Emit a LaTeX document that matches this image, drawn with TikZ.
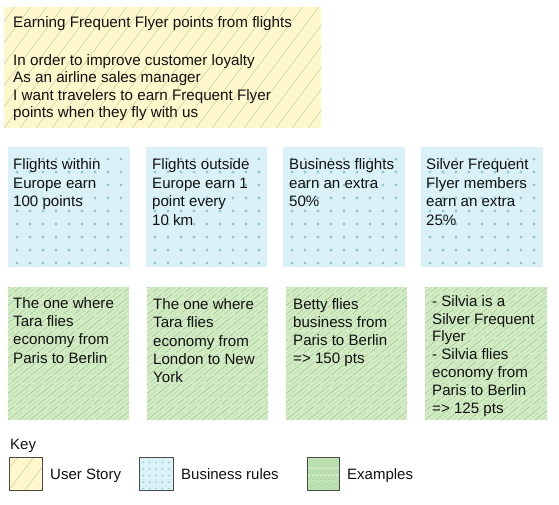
\documentclass[tikz,border=0pt]{standalone}
\usepackage{fontspec}
\setmainfont{Liberation Sans}
\definecolor{ybg}{HTML}{FEF8CC}
\definecolor{yln}{HTML}{D6CDA3}
\definecolor{bbg}{HTML}{DAF2F7}
\definecolor{bdot}{HTML}{94C7C8}
\definecolor{gbg}{HTML}{D4EBC5}
\definecolor{gln}{HTML}{9CD294}
\definecolor{gln2}{HTML}{B4DCAA}
\definecolor{txt}{HTML}{111111}
\definecolor{keyline}{HTML}{4A4A4A}
% yellow hatched fill: x1 y1 x2 y2 spacing
\newcommand\ystoryfill[5]{%
  \fill[ybg] (#1,#2) rectangle (#3,#4);
  \begin{scope}
    \clip (#1,#2) rectangle (#3,#4);
    \foreach \k in {-12,...,24} {
      \draw[yln,line width=0.6pt] ({#1+\k*#5},#4) -- ++(150,-200);
    }
  \end{scope}}
% blue dotted fill: x1 y1 x2 y2 spacing offset radius
\newcommand\bizfill[7]{%
  \fill[bbg] (#1,#2) rectangle (#3,#4);
  \begin{scope}
    \clip (#1,#2) rectangle (#3,#4);
    \pgfmathtruncatemacro\bzcols{(#3-#1-#6)/#5}
    \pgfmathtruncatemacro\bzrows{(#4-#2+1)/#5}
    \foreach \i in {0,...,\bzcols} {
      \foreach \j in {0,...,\bzrows} {
        \fill[bdot] ({#1+#6+\i*#5},{#2-1+\j*#5}) circle (#7);
      }
    }
  \end{scope}}
% green sketchy hatch: x1 y1 x2 y2 spacing
\newcommand\exfill[5]{%
  \fill[gbg] (#1,#2) rectangle (#3,#4);
  \begin{scope}
    \clip (#1,#2) rectangle (#3,#4);
    \foreach \k in {-30,...,24} {
      \draw[gln,line width=0.65pt,dash pattern=on 22pt off 3pt on 9pt off 2pt]
        ({#1+\k*#5},#4) -- ++(200,-160);
      \draw[gln2,line width=0.5pt,dash pattern=on 12pt off 4pt on 17pt off 3pt]
        ({#1+\k*#5+#5/2},#4) -- ++(200,-160);
    }
  \end{scope}}
\tikzset{
  boxtext/.style={anchor=north west, inner sep=0pt, align=left, text=txt},
  ytext/.style={boxtext, font=\fontsize{15.2}{17.5}\selectfont},
  btext/.style={boxtext, font=\fontsize{15.1}{18.6}\selectfont},
  gtext/.style={boxtext, font=\fontsize{15.1}{18.2}\selectfont},
  g4text/.style={boxtext, font=\fontsize{15.1}{17.8}\selectfont},
  keytext/.style={anchor=base west, inner sep=0pt, text=txt, font=\fontsize{15}{18}\selectfont},
  keyborder/.style={draw=keyline, line width=0.8pt}
}
\begin{document}
\begin{tikzpicture}[x=1pt,y=-1pt]
\useasboundingbox (0,0) rectangle (559,504);
\fill[white] (0,0) rectangle (559,504);

% user story
\ystoryfill{4}{7}{321}{128}{16}
\node[ytext] (story) at (13,15.3) {\rule{0pt}{12pt}Earning Frequent Flyer points from flights\\[20.3pt]
In order to improve customer loyalty\\
As an airline sales manager\\
I want travelers to earn Frequent Flyer\\
points when they fly with us};

% business rules
\bizfill{8}{147}{130}{267}{13}{9}{1.6}
\bizfill{146}{147}{267}{267}{13}{9}{1.6}
\bizfill{283}{147}{405}{267}{13}{9}{1.6}
\bizfill{421}{147}{543}{267}{13}{9}{1.6}
\node[btext] (rule1) at (13,157.5) {\rule{0pt}{12pt}Flights within\\Europe earn\\100 points};
\node[btext] (rule2) at (152,157.5) {\rule{0pt}{12pt}Flights outside\\Europe earn 1\\point every\\10 km};
\node[btext] (rule3) at (289,157.5) {\rule{0pt}{12pt}Business flights\\earn an extra\\50\%};
\node[btext] (rule4) at (426,157.5) {\rule{0pt}{12pt}Silver Frequent\\Flyer members\\earn an extra\\25\%};

% examples
\exfill{8}{287}{129}{420}{11}
\exfill{147}{287}{268}{420}{11}
\exfill{286}{287}{407}{420}{11}
\exfill{425}{287}{547}{420}{11}
\node[gtext] (ex1) at (13,296.3) {\rule{0pt}{12pt}The one where\\Tara flies\\economy from\\Paris to Berlin};
\node[gtext] (ex2) at (153,297.5) {\rule{0pt}{12pt}The one where\\Tara flies\\economy from\\London to New\\York};
\node[gtext] (ex3) at (293,297) {\rule{0pt}{12pt}Betty flies\\business from\\Paris to Berlin\\=> 150 pts};
\node[g4text] (ex4) at (432,294) {\rule{0pt}{12pt}- Silvia is a\\Silver Frequent\\Flyer\\- Silvia flies\\economy from\\Paris to Berlin\\=> 125 pts};

% key
\node[keytext] (key) at (10,449.3) {Key};
\ystoryfill{9}{457}{42}{490}{16}
\draw[keyborder] (9,457) rectangle (42,490);
\node[keytext] (kstory) at (50,479.3) {User Story};
\bizfill{139}{457}{173}{490}{6.5}{4}{0.8}
\draw[keyborder] (139,457) rectangle (173,490);
\node[keytext] (krule) at (181,479.3) {Business rules};
\exfill{307}{457}{339}{490}{4}
\draw[keyborder] (307,457) rectangle (339,490);
\node[keytext] (kex) at (347,479.3) {Examples};
\end{tikzpicture}
\end{document}
